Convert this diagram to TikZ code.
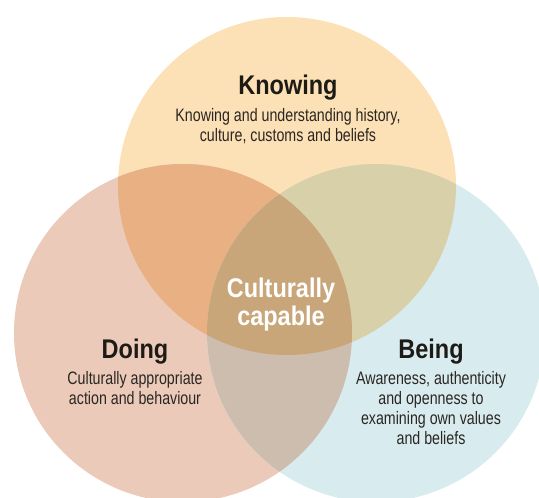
\documentclass[tikz,border=0pt]{standalone}
\usepackage{fontspec}
\setmainfont{Liberation Sans}
\newfontfamily\headfont[FakeStretch=0.87]{Liberation Sans}
\newfontfamily\descfont[FakeStretch=0.79]{Liberation Sans}
\definecolor{cK}{HTML}{FCE0B6}
\definecolor{cD}{HTML}{EBCAB9}
\definecolor{cB}{HTML}{D8EBEE}
\definecolor{cKD}{HTML}{E8B083}
\definecolor{cKB}{HTML}{D8D0A9}
\definecolor{cDB}{HTML}{CCBDAE}
\definecolor{cKDB}{HTML}{C9A679}
\definecolor{headtxt}{HTML}{1E1A16}
\definecolor{desctxt}{HTML}{2B2622}
\tikzset{
  headlbl/.style={font=\headfont\bfseries\fontsize{27}{30}\selectfont, text=headtxt, inner sep=0pt, anchor=base},
  desclbl/.style={font=\descfont\fontsize{18}{20}\selectfont, text=desctxt, align=center, inner sep=0pt, anchor=north},
  corelbl/.style={font=\headfont\bfseries\fontsize{27}{28}\selectfont, text=white, align=center, inner sep=0pt}
}
\begin{document}
\begin{tikzpicture}[x=1pt,y=-1pt]
\useasboundingbox (0,0) rectangle (539,498);
\clip (0,0) rectangle (539,498);
\def\R{169pt}
\coordinate (K) at (287,186);
\coordinate (D) at (183,333);
\coordinate (B) at (376,333);
\fill[cK] (K) circle[radius=\R];
\fill[cD] (D) circle[radius=\R];
\fill[cB] (B) circle[radius=\R];
\begin{scope}
  \clip (K) circle[radius=\R];
  \fill[cKD] (D) circle[radius=\R];
  \fill[cKB] (B) circle[radius=\R];
\end{scope}
\begin{scope}
  \clip (D) circle[radius=\R];
  \fill[cDB] (B) circle[radius=\R];
\end{scope}
\begin{scope}
  \clip (K) circle[radius=\R];
  \clip (D) circle[radius=\R];
  \fill[cKDB] (B) circle[radius=\R];
\end{scope}
\node[headlbl] (kh) at (288,94) {Knowing};
\node[desclbl] (kd) at (288,108) {Knowing and understanding history,\\culture, customs and beliefs};
\node[headlbl] (dh) at (135,358) {Doing};
\node[desclbl] (dd) at (135,371) {Culturally appropriate\\action and behaviour};
\node[headlbl] (bh) at (431,358) {Being};
\node[desclbl] (bd) at (431,371) {Awareness, authenticity\\and openness to\\examining own values\\and beliefs};
\node[corelbl] (cc) at (281,305) {Culturally\\capable};
\end{tikzpicture}
\end{document}
